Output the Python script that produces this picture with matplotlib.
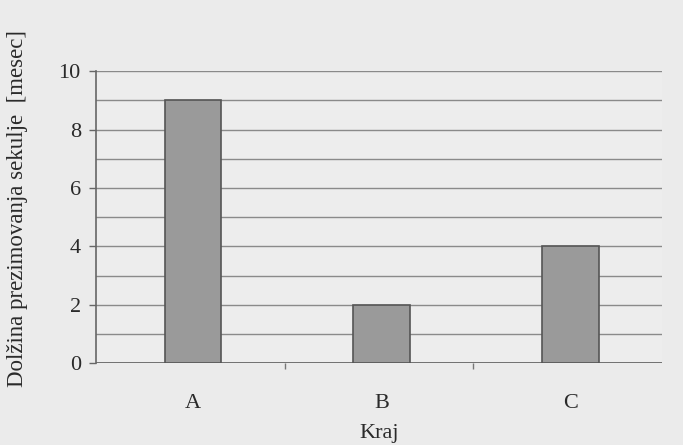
import numpy as np
import matplotlib
matplotlib.use("Agg")
import matplotlib.pyplot as plt

# trajanje prezimovanja po krajih
kraji = ["A", "B", "C"]
meseci = [9, 2, 4]
y_ticks = [0, 2, 4, 6, 8, 10]

plt.rcParams['font.family'] = ['Liberation Serif', 'DejaVu Serif']

fig = plt.figure(figsize=(6.83, 4.45), dpi=100, facecolor="#ebebeb")
ax = fig.add_axes([0.1406, 0.184, 0.8284, 0.656])
ax.set_facecolor("#ededed")

x = np.arange(len(kraji))
ax.bar(x + 0.015, meseci, width=0.3, color="#9a9a9a", edgecolor="#555555",
       linewidth=1.2, zorder=3)

# mreza na vsak mesec
for v in range(1, 11):
    ax.axhline(v, color="#8a8a8a", linewidth=1.0, zorder=1)
ax.axhline(0, color="#666666", linewidth=1.3, zorder=2)

ax.set_xlim(-0.5, 2.5)
ax.set_ylim(0, 10)
ax.set_yticks(y_ticks)
ax.set_yticklabels([str(v) for v in y_ticks], fontsize=16, color="#2a2a2a")
ax.set_xticks(x + 0.015)
ax.set_xticklabels(kraji, fontsize=16, color="#2a2a2a")
ax.tick_params(axis="x", length=0, pad=22)
ax.tick_params(axis="y", length=5, width=1, color="#666666", pad=6)

# kratke crte med kategorijami
ax.set_xticks([0.5, 1.5], minor=True)
ax.tick_params(axis="x", which="minor", length=4, width=1, color="#777777")

for s in ["top", "right", "bottom"]:
    ax.spines[s].set_visible(False)
ax.spines["left"].set_color("#666666")
ax.spines["left"].set_linewidth(1.2)

ax.set_xlabel("Kraj", fontsize=16, color="#2a2a2a", labelpad=8)
ax.set_ylabel("Dolžina prezimovanja sekulje  [mesec]", fontsize=16.5,
              color="#2a2a2a")
ax.yaxis.set_label_coords(-0.12, 0.53)

fig.savefig("out.png", dpi=100, facecolor=fig.get_facecolor())
